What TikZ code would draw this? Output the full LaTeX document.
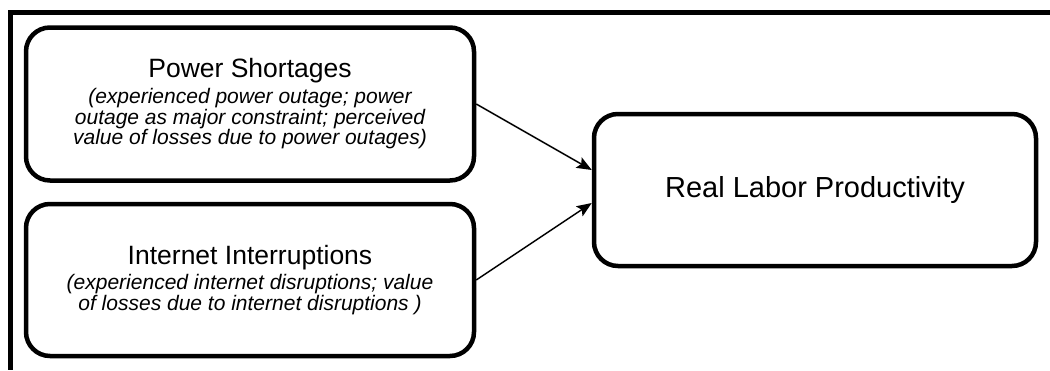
\documentclass[tikz,border=0pt]{standalone}
\usepackage{fontspec}
\setmainfont{Liberation Sans}
\usetikzlibrary{arrows.meta}

\begin{document}
\begin{tikzpicture}[x=1pt,y=-1pt,
    factor/.style={draw,line width=4.5pt,rounded corners=24pt,align=center,inner sep=0pt,
      font=\fontsize{21}{19}\selectfont\itshape},
    link/.style={line width=1.5pt,-{Stealth[length=15pt,width=12pt,inset=3pt]}}]
  \useasboundingbox (0,0) rectangle (1050,370);
  % partial frame, top and left only
  \draw[line width=4.5pt] (1050,12.5) -- (10.5,12.5) -- (10.5,370);
  \node[factor,minimum width=448pt,minimum height=153pt] (power) at (250,104)
    {{\upshape\fontsize{26.5}{26.5}\selectfont Power Shortages}\\[4pt]
     (experienced power outage; power\\ outage as major constraint; perceived\\
     value of losses due to power outages)};
  \node[factor,minimum width=448pt,minimum height=152pt] (internet) at (250,280)
    {{\upshape\fontsize{26.5}{26.5}\selectfont Internet Interruptions}\\[4pt]
     (experienced internet disruptions; value\\ of losses due to internet disruptions )};
  \node[factor,minimum width=442pt,minimum height=152pt,font=\fontsize{29}{29}\selectfont] (prod) at (815,190)
    {Real Labor Productivity};
  \draw[link] (power.east) -- ([yshift=20pt]prod.west);
  \draw[link] (internet.east) -- ([yshift=-13pt]prod.west);
\end{tikzpicture}
\end{document}
